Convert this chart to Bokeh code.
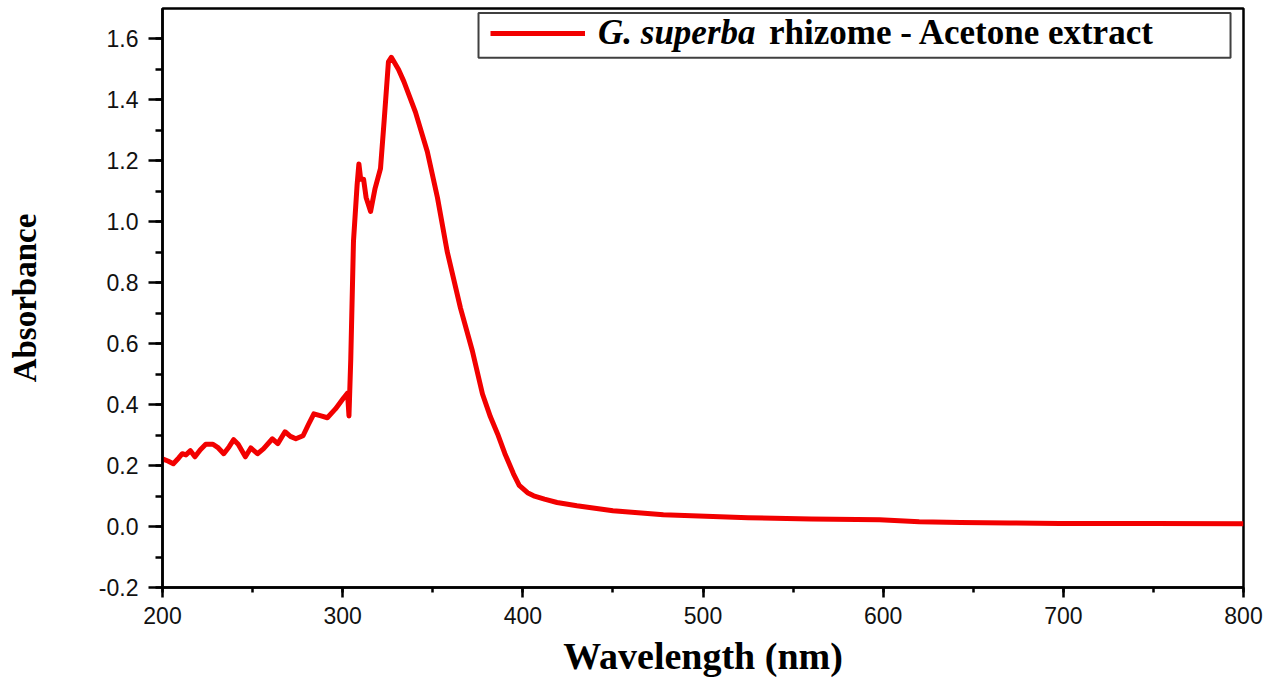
from bokeh.plotting import figure
from bokeh.models import (Range1d, SingleIntervalTicker, PrintfTickFormatter,
                          Legend, LegendItem, BoxAnnotation)
from bokeh.embed import file_html
from bokeh.resources import INLINE

wavelength = [200, 203, 206, 209, 211, 213, 215.5, 218, 221, 224, 228, 231, 234, 237,
              239.5, 242, 246, 249, 252.7, 256, 261, 264, 268, 271, 274, 278, 281,
              284, 288, 291.5, 296, 300.5, 302.7, 303.5, 304.5, 306, 308, 309, 310,
              311.6, 313, 315.5, 318, 321, 323, 325.4, 327, 328, 331, 334, 340.4, 347,
              352.6, 358, 365.4, 372, 377.6, 382, 386, 390, 394.8, 398, 402.6, 406,
              412, 419, 430, 450, 478, 525, 560, 598, 620, 643, 670, 698, 750, 800]
absorbance = [0.222, 0.215, 0.206, 0.225, 0.239, 0.235, 0.249, 0.229, 0.252, 0.270,
              0.270, 0.258, 0.239, 0.262, 0.285, 0.270, 0.229, 0.258, 0.239, 0.255,
              0.288, 0.272, 0.311, 0.296, 0.288, 0.298, 0.335, 0.370, 0.363, 0.357,
              0.386, 0.422, 0.438, 0.363, 0.55, 0.936, 1.12, 1.19, 1.14, 1.14, 1.08,
              1.034, 1.11, 1.175, 1.33, 1.525, 1.54, 1.53, 1.50, 1.46, 1.36, 1.23,
              1.08, 0.903, 0.717, 0.576, 0.435, 0.36, 0.304, 0.24, 0.173, 0.135,
              0.111, 0.101, 0.09, 0.079, 0.068, 0.052, 0.039, 0.029, 0.025, 0.022,
              0.016, 0.013, 0.012, 0.010, 0.010, 0.009]

series_italic = "G. superba"
series_rest = "rhizome - Acetone extract"
x_label = "Wavelength (nm)"
y_label = "Absorbance"

p = figure(frame_width=1081, frame_height=579, output_backend="svg",
           toolbar_location=None,
           x_range=Range1d(200, 800), y_range=Range1d(-0.2, 1.70),
           min_border_left=162, min_border_top=8, min_border_right=25,
           min_border_bottom=88)
p.background_fill_color = "white"
p.border_fill_color = "white"
p.xgrid.visible = False
p.ygrid.visible = False
p.outline_line_color = "black"
p.outline_line_width = 2.5
p.outline_line_alpha = 1

line = p.line(wavelength, absorbance, line_color="#f20000", line_width=5,
              line_join="round")

p.xaxis.ticker = SingleIntervalTicker(interval=100, num_minor_ticks=2)
p.yaxis.ticker = SingleIntervalTicker(interval=0.2, num_minor_ticks=2)
p.yaxis.formatter = PrintfTickFormatter(format="%.1f")

for ax in (p.xaxis[0], p.yaxis[0]):
    ax.axis_line_width = 2.5
    ax.axis_line_color = "black"
    ax.major_tick_line_width = 2.5
    ax.minor_tick_line_width = 2.5
    ax.major_tick_line_color = "black"
    ax.minor_tick_line_color = "black"
    ax.major_tick_in = 0
    ax.minor_tick_in = 0
    ax.major_label_text_font = "Liberation Sans"
    ax.major_label_text_font_size = "23px"
    ax.major_label_text_color = "#111111"
    ax.axis_label_text_font = "Liberation Serif"
    ax.axis_label_text_font_style = "bold"
    ax.axis_label_text_color = "black"

p.xaxis.major_tick_out = 10
p.xaxis.minor_tick_out = 5
p.yaxis.major_tick_out = 14
p.yaxis.minor_tick_out = 7
p.xaxis.major_label_standoff = 9
p.yaxis.major_label_standoff = 10
p.xaxis.axis_label = x_label
p.yaxis.axis_label = y_label
p.xaxis.axis_label_text_font_size = "38px"
p.yaxis.axis_label_text_font_size = "33px"
p.xaxis.axis_label_standoff = 8
p.yaxis.axis_label_standoff = 53

box = BoxAnnotation(left=375.4, right=792.8, top=1.685, bottom=1.538,
                    fill_color="white", fill_alpha=1.0,
                    line_color="#404040", line_width=2, line_alpha=1)
p.add_layout(box)

leg1 = Legend(items=[LegendItem(label=series_italic, renderers=[line])],
              location=(328, 534), padding=0, margin=0, spacing=0,
              glyph_width=95, glyph_height=34, label_height=34,
              label_standoff=13,
              label_text_font="Liberation Serif",
              label_text_font_style="bold italic",
              label_text_font_size="35px", label_text_color="black",
              border_line_alpha=0, background_fill_alpha=0)
leg2 = Legend(items=[LegendItem(label=series_rest, renderers=[line])],
              location=(607, 534), padding=0, margin=0, spacing=0,
              glyph_width=0, glyph_height=34, label_height=34,
              label_standoff=0,
              label_text_font="Liberation Serif",
              label_text_font_style="bold",
              label_text_font_size="35px", label_text_color="black",
              border_line_alpha=0, background_fill_alpha=0)
p.add_layout(leg1)
p.add_layout(leg2)

open("out.html", "w").write(file_html(p, INLINE))
